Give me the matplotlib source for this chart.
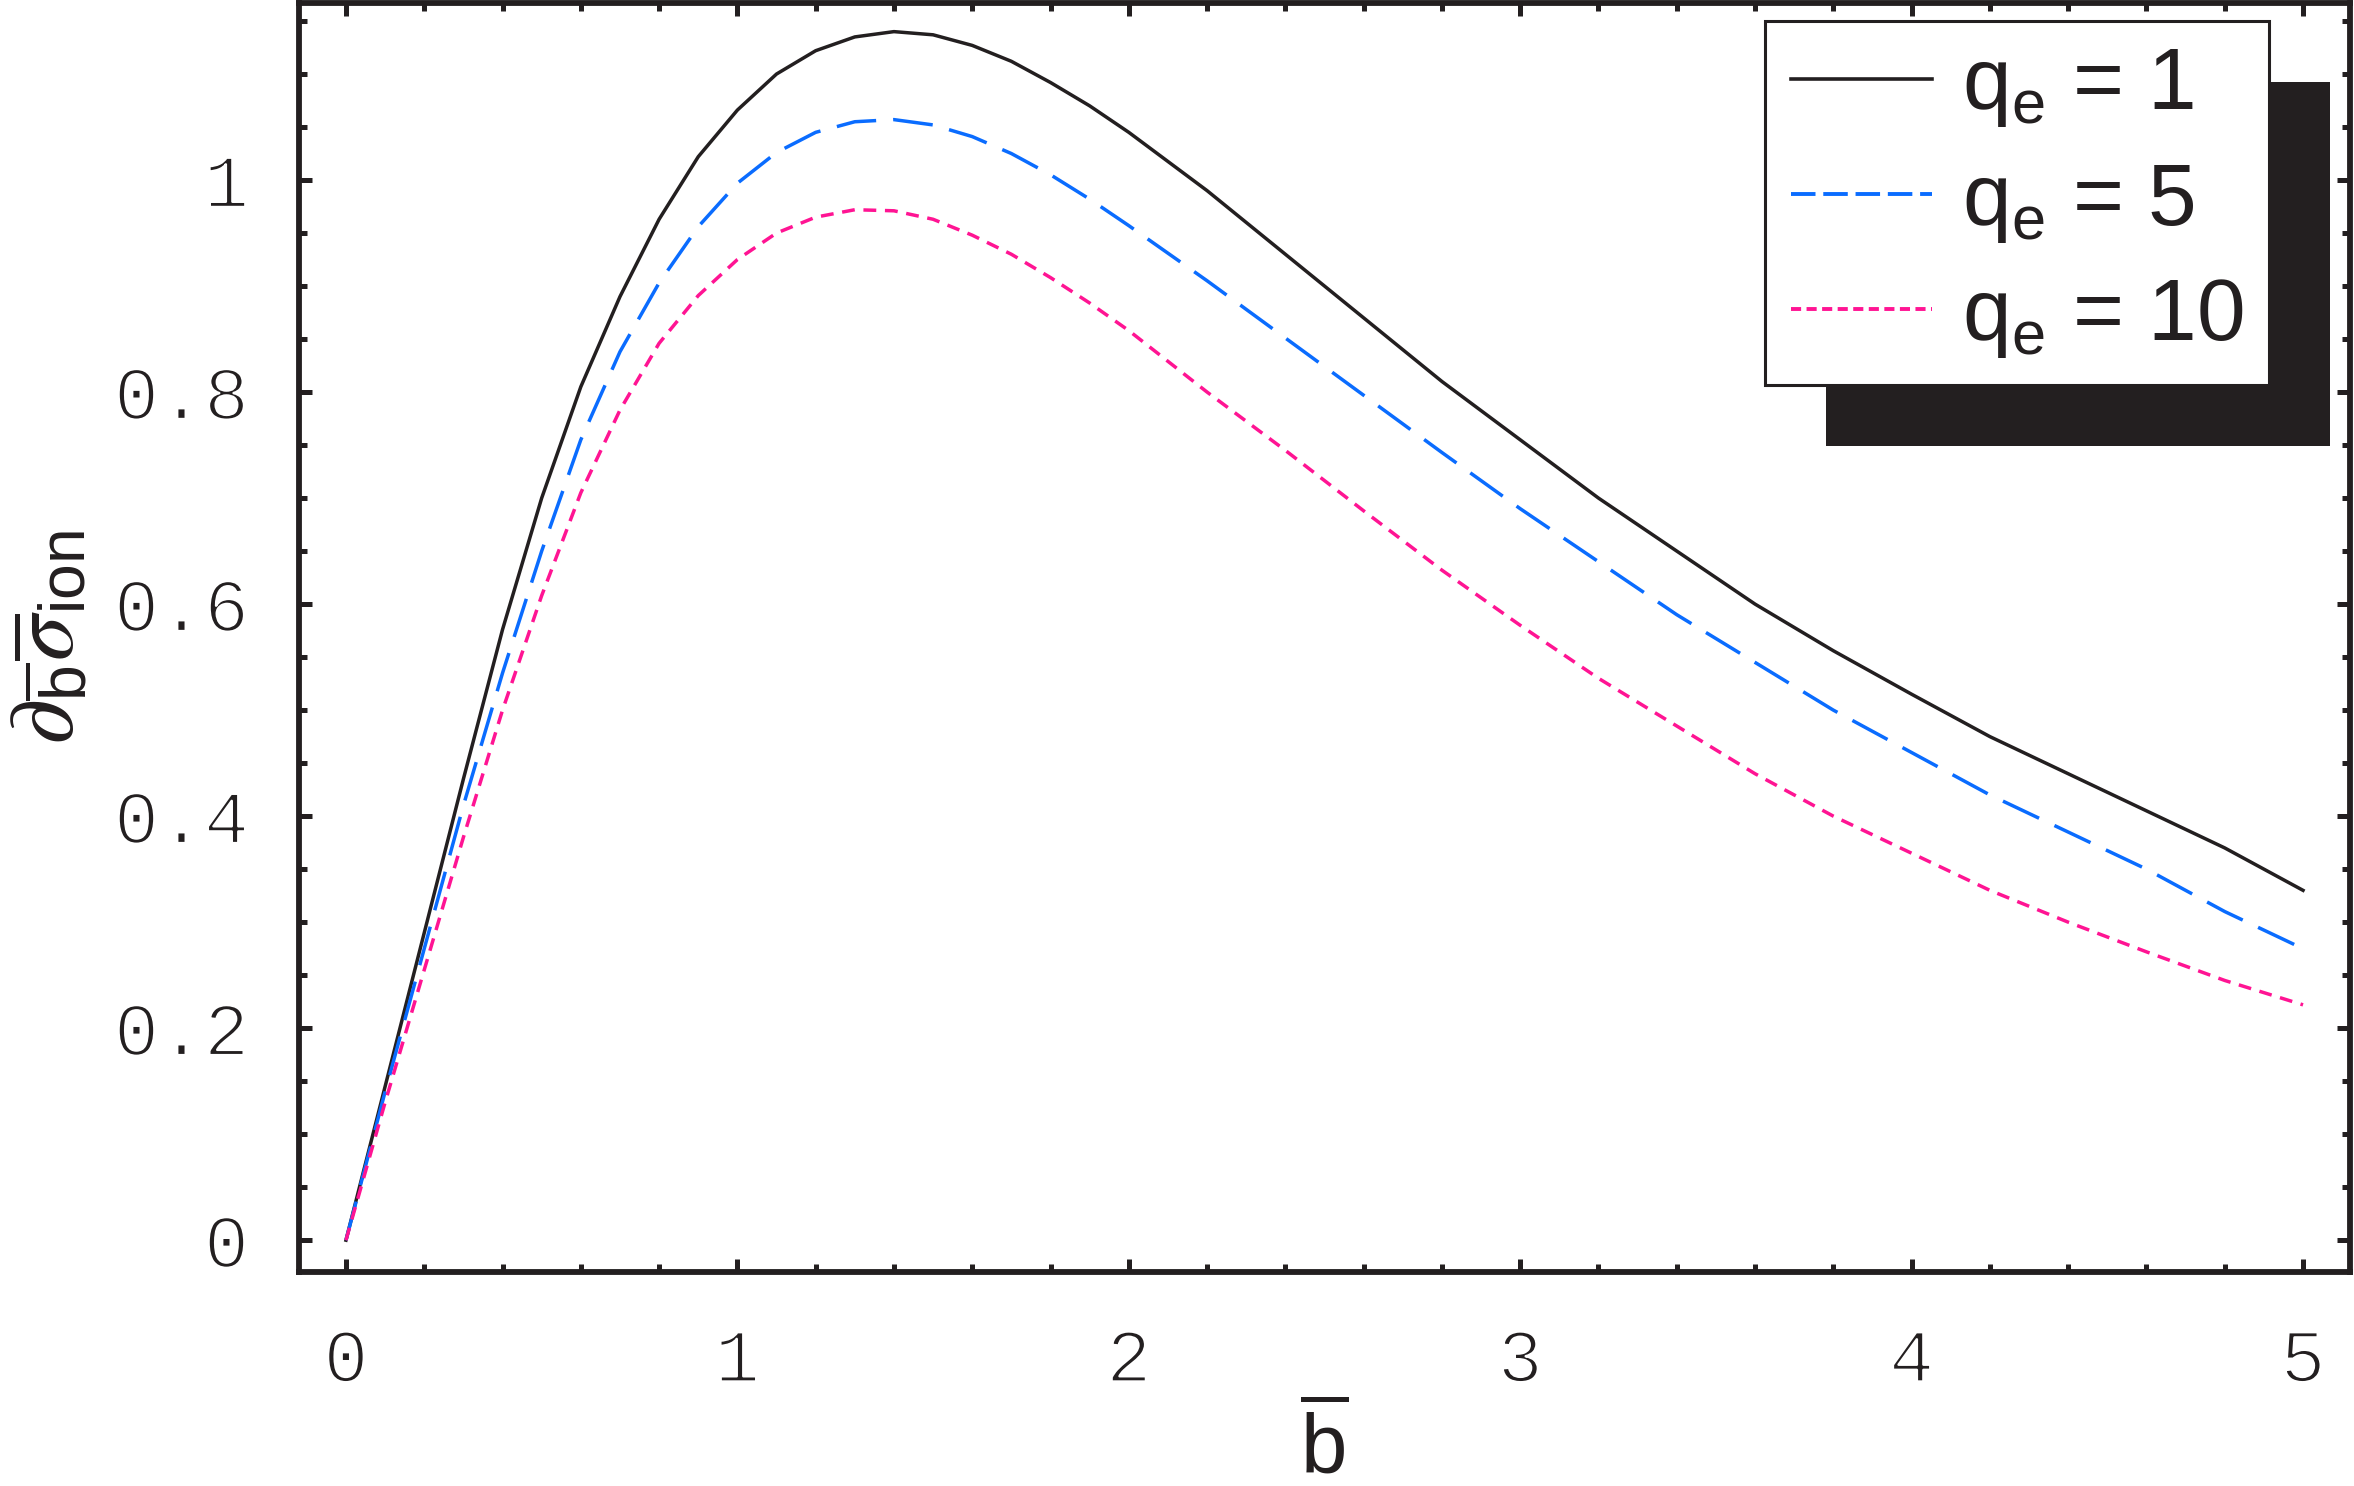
import matplotlib
matplotlib.use("Agg")
import matplotlib.pyplot as plt
import matplotlib.patheffects as pe
from matplotlib.lines import Line2D
from matplotlib.patches import Rectangle
from matplotlib.transforms import IdentityTransform
from matplotlib.ticker import MultipleLocator

# ---- data ----
b_vals = [0.0, 0.1, 0.2, 0.3, 0.4, 0.5, 0.6, 0.7, 0.8, 0.9, 1.0, 1.1, 1.2, 1.3, 1.4,
          1.5, 1.6, 1.7, 1.8, 1.9, 2.0, 2.2, 2.4, 2.6, 2.8, 3.0, 3.2, 3.4, 3.6, 3.8,
          4.0, 4.2, 4.4, 4.6, 4.8, 5.0]
sigma_q1 = [0.0, 0.145, 0.29, 0.435, 0.576, 0.70, 0.805, 0.89, 0.963, 1.022, 1.066, 1.10,
            1.122, 1.135, 1.14, 1.137, 1.127, 1.112, 1.092, 1.07, 1.045, 0.99, 0.93,
            0.87, 0.81, 0.755, 0.70, 0.65, 0.60, 0.556, 0.515, 0.475, 0.44, 0.405,
            0.37, 0.33]
sigma_q5 = [0.0, 0.14, 0.275, 0.41, 0.535, 0.65, 0.755, 0.838, 0.903, 0.956, 0.997, 1.026,
            1.045, 1.055, 1.057, 1.052, 1.041, 1.025, 1.005, 0.982, 0.957, 0.905, 0.851,
            0.797, 0.743, 0.69, 0.64, 0.59, 0.545, 0.50, 0.46, 0.42, 0.385, 0.35,
            0.31, 0.275]
sigma_q10 = [0.0, 0.13, 0.255, 0.38, 0.50, 0.608, 0.705, 0.783, 0.846, 0.891, 0.925, 0.95,
             0.965, 0.972, 0.971, 0.963, 0.948, 0.93, 0.908, 0.884, 0.858, 0.80, 0.745,
             0.688, 0.632, 0.58, 0.53, 0.485, 0.44, 0.40, 0.365, 0.33, 0.30, 0.272,
             0.245, 0.222]
labels = ['q$_\\mathregular{e}$ = 1', 'q$_\\mathregular{e}$ = 5', 'q$_\\mathregular{e}$ = 10']
xticks = [0, 1, 2, 3, 4, 5]
yticks = [0, 0.2, 0.4, 0.6, 0.8, 1.0]
ytick_labels = ['0', '0.2', '0.4', '0.6', '0.8', '1']

DARK = '#231f20'
BLUE = '#0a6cff'
PINK = '#ff1493'

W, H, DPI = 2354, 1486, 200
fig = plt.figure(figsize=(W / DPI, H / DPI), dpi=DPI)
ax = fig.add_axes([299 / W, 1 - 1272 / H, (2350 - 299) / W, (1272 - 3) / H])

lw = 1.25
ax.plot(b_vals, sigma_q1, color=DARK, lw=lw)
ax.plot(b_vals, sigma_q5, color=BLUE, lw=lw, linestyle=(0, (11.5, 4.9)))
ax.plot(b_vals, sigma_q10, color=PINK, lw=lw, linestyle=(0, (3.7, 2.5)))

ax.set_xlim(-0.12, 5.12)
ax.set_ylim(-0.03, 1.167)
ax.set_xticks(xticks)
ax.set_xticklabels([str(t) for t in xticks])
ax.set_yticks(yticks)
ax.set_yticklabels(ytick_labels)
ax.xaxis.set_minor_locator(MultipleLocator(0.2))
ax.yaxis.set_minor_locator(MultipleLocator(0.05))

for sp in ax.spines.values():
    sp.set_linewidth(2.1)
    sp.set_color(DARK)

ax.tick_params(which='both', direction='in', top=True, right=True, color=DARK, width=1.8)
ax.tick_params(which='major', length=4.8)
ax.tick_params(which='minor', length=2.9)
ax.tick_params(axis='y', which='major', pad=18)
ax.tick_params(axis='x', which='major', pad=20)
thin = [pe.Stroke(linewidth=0.9, foreground='white')]
for lab in ax.get_xticklabels() + ax.get_yticklabels():
    lab.set_fontfamily('Liberation Mono')
    lab.set_fontsize(27)
    lab.set_color(DARK)
    lab.set_path_effects(thin)

ax.set_xlabel(r'$\overline{\mathregular{b}}$', fontfamily='Liberation Sans', fontsize=30,
              labelpad=3, color=DARK)
ax.set_ylabel(r'$\partial_{\overline{\mathregular{b}}}\overline{\sigma}_{\mathregular{ion}}$',
              fontfamily='Liberation Sans', math_fontfamily='stix', fontsize=33,
              labelpad=8, color=DARK)

handles = [
    Line2D([], [], color=DARK, lw=1.3),
    Line2D([], [], color=BLUE, lw=1.4, linestyle=(0, (6.3, 2.0))),
    Line2D([], [], color=PINK, lw=1.4, linestyle=(0, (2.6, 1.4))),
]
leg = ax.legend(handles, labels, loc='upper right', bbox_to_anchor=(0.9605, 0.986),
                borderaxespad=0, prop={'family': 'Liberation Sans', 'size': 31.5},
                frameon=True, fancybox=False, framealpha=1, edgecolor=DARK,
                handlelength=1.62, handletextpad=0.34, labelspacing=0.37,
                borderpad=0.29)
leg.get_frame().set_linewidth(1.1)
for t in leg.get_texts():
    t.set_color(DARK)

fig.canvas.draw()
bb = leg.get_window_extent()
shadow = Rectangle((bb.x0 + 61, bb.y0 - 61), bb.width, bb.height, transform=IdentityTransform(),
                   facecolor=DARK, edgecolor='none', zorder=4.9, clip_on=False)
ax.add_artist(shadow)

fig.savefig('out.png', dpi=DPI)
